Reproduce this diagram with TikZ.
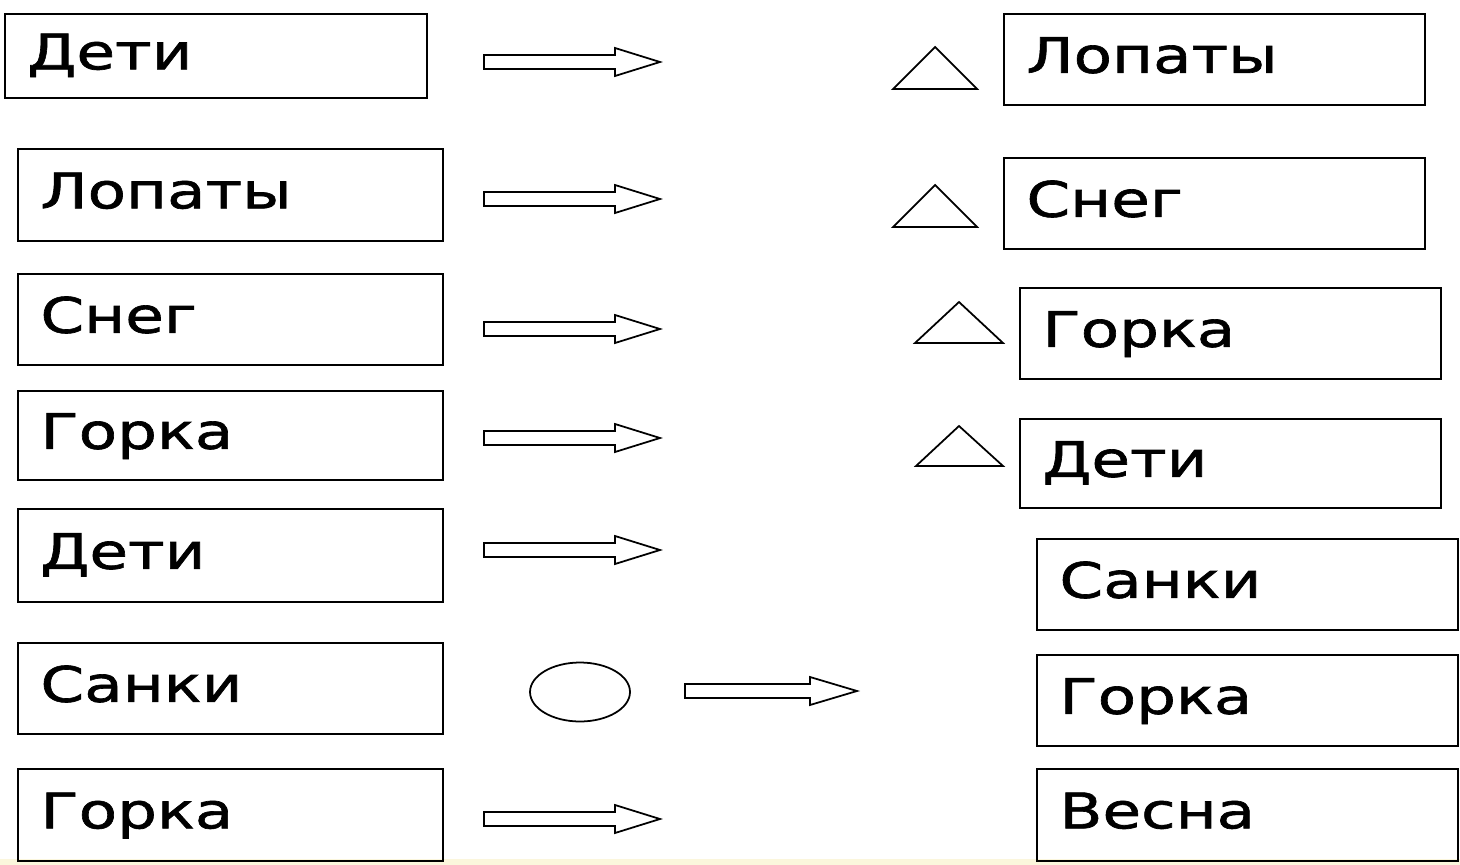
\documentclass[tikz,border=0pt]{standalone}
\usepackage{fontspec}
\newfontfamily\boxfont[FakeStretch=1.28, FakeBold=1.3]{DejaVu Sans}
\definecolor{stripyellow}{HTML}{FBF6DC}
\tikzset{
  wordbox/.style={draw, line width=1.1pt, anchor=north west, inner xsep=0.45cm, inner ysep=0pt,
    align=left, text height=0.715cm, text depth=0.18cm,
    font=\boxfont\fontsize{27.9pt}{33pt}\selectfont},
  leftbox/.style={wordbox, text width=7.6cm, minimum height=1.84cm},
  rightbox/.style={wordbox, text width=7.52cm, minimum height=1.82cm},
  shapeline/.style={line width=1pt},
}
\begin{document}
\begin{tikzpicture}[x=0.02cm, y=-0.02cm]
  \useasboundingbox (0,0) rectangle (1460,865);
  % 1. bottom strip
  \fill[stripyellow] (0,859) rectangle (1460,865);

  % 2. left column
  \node[leftbox, text width=7.54cm, minimum height=1.68cm] (l1) at (4,13) {Дети};
  \node[leftbox] (l2) at (17,148) {Лопаты};
  \node[leftbox, minimum height=1.82cm] (l3) at (17,273) {Снег};
  \node[leftbox, minimum height=1.78cm] (l4) at (17,390) {Горка};
  \node[leftbox, minimum height=1.86cm] (l5) at (17,508) {Дети};
  \node[leftbox, minimum height=1.82cm] (l6) at (17,642) {Санки};
  \node[leftbox] (l7) at (17,768) {Горка};

  % 3. hollow arrows
  \draw[shapeline] (484,55) -- ++(131,0) -- ++(0,-7) -- ++(45,14) -- ++(-45,14) -- ++(0,-7) -- ++(-131,0) -- cycle;
  \draw[shapeline] (484,192) -- ++(131,0) -- ++(0,-7) -- ++(45,14) -- ++(-45,14) -- ++(0,-7) -- ++(-131,0) -- cycle;
  \draw[shapeline] (484,322) -- ++(131,0) -- ++(0,-7) -- ++(45,14) -- ++(-45,14) -- ++(0,-7) -- ++(-131,0) -- cycle;
  \draw[shapeline] (484,431) -- ++(131,0) -- ++(0,-7) -- ++(45,14) -- ++(-45,14) -- ++(0,-7) -- ++(-131,0) -- cycle;
  \draw[shapeline] (484,543) -- ++(131,0) -- ++(0,-7) -- ++(45,14) -- ++(-45,14) -- ++(0,-7) -- ++(-131,0) -- cycle;
  \draw[shapeline] (685,684) -- ++(125,0) -- ++(0,-7) -- ++(47,14) -- ++(-47,14) -- ++(0,-7) -- ++(-125,0) -- cycle;
  \draw[shapeline] (484,812) -- ++(131,0) -- ++(0,-7) -- ++(45,14) -- ++(-45,14) -- ++(0,-7) -- ++(-131,0) -- cycle;

  % 4. circle and triangles
  \draw[shapeline] (580,692) ellipse [x radius=1cm, y radius=0.59cm];
  \draw[shapeline] (893,89) -- (935,47) -- (977,89) -- cycle;
  \draw[shapeline] (893,227) -- (935,185) -- (977,227) -- cycle;
  \draw[shapeline] (915,343) -- (959,302) -- (1003,343) -- cycle;
  \draw[shapeline] (916,466) -- (959,426) -- (1003,466) -- cycle;

  % 5. right column
  \node[rightbox] (r1) at (1003,13) {Лопаты};
  \node[rightbox] (r2) at (1003,157) {Снег};
  \node[rightbox] (r3) at (1019,287) {Горка};
  \node[rightbox, minimum height=1.78cm] (r4) at (1019,418) {Дети};
  \node[rightbox] (r5) at (1036,538) {Санки};
  \node[rightbox] (r6) at (1036,654) {Горка};
  \node[rightbox, minimum height=1.84cm] (r7) at (1036,768) {Весна};
\end{tikzpicture}
\end{document}
